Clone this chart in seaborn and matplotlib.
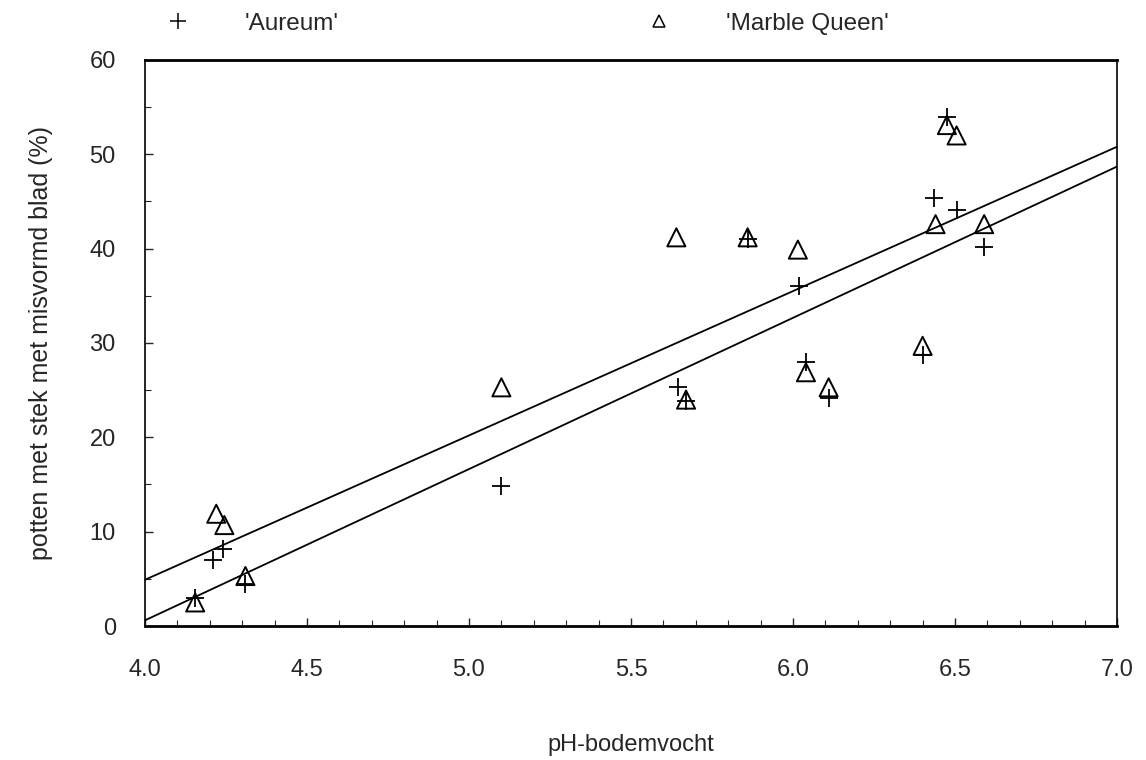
import seaborn as sns
import matplotlib.pyplot as plt
from matplotlib.lines import Line2D
from matplotlib.ticker import MultipleLocator

sns.set_style("ticks")
plt.rcParams['font.family'] = ['Liberation Sans', 'DejaVu Sans']

# 'Aureum' (+)
aureum_ph = [4.155, 4.21, 4.24, 4.31, 5.10, 5.645, 5.67, 5.86, 6.02, 6.04, 6.11, 6.40, 6.435, 6.475, 6.505, 6.59]
aureum_pct = [3.0, 7.0, 8.2, 4.5, 14.8, 25.3, 23.8, 41.0, 36.0, 28.0, 24.2, 28.7, 45.4, 54.0, 44.1, 40.2]

# 'Marble Queen' (open triangles)
mq_ph = [4.155, 4.22, 4.245, 4.31, 5.10, 5.64, 5.67, 5.86, 6.015, 6.04, 6.11, 6.40, 6.44, 6.475, 6.505, 6.59]
mq_pct = [2.5, 11.9, 10.7, 5.3, 25.3, 41.2, 24.0, 41.2, 39.9, 26.9, 25.3, 29.7, 42.6, 53.1, 52.0, 42.6]

# fitted regression lines
fit_ph = [4.0, 7.0]
mq_fit = [4.9, 50.8]
aureum_fit = [0.6, 48.7]

fig, ax = plt.subplots(figsize=(11.46, 7.6), dpi=100)
fig.subplots_adjust(left=0.1265, right=0.9747, bottom=0.1763, top=0.9211)

sns.lineplot(x=fit_ph, y=mq_fit, color='black', linewidth=1.3, ax=ax)
sns.lineplot(x=fit_ph, y=aureum_fit, color='black', linewidth=1.3, ax=ax)

sns.scatterplot(x=aureum_ph, y=aureum_pct, marker='+', s=170, color='black',
                linewidth=1.3, ax=ax, zorder=3)
sns.scatterplot(x=mq_ph, y=mq_pct, marker='^', s=170, facecolor='none',
                edgecolor='black', linewidth=1.4, ax=ax, zorder=3)

ax.set_xlim(4.0, 7.0)
ax.set_ylim(0, 60)
ax.xaxis.set_minor_locator(MultipleLocator(0.1))
ax.yaxis.set_major_locator(MultipleLocator(10))
ax.yaxis.set_minor_locator(MultipleLocator(5))
ax.set_xticks([4.0, 4.5, 5.0, 5.5, 6.0, 6.5, 7.0])
ax.set_xticklabels(['4.0', '4.5', '5.0', '5.5', '6.0', '6.5', '7.0'])
ax.tick_params(axis='both', which='major', direction='in', length=6, width=1,
               labelsize=17)
ax.tick_params(axis='x', which='major', pad=24)
ax.tick_params(axis='y', which='major', pad=21)
ax.tick_params(axis='both', which='minor', direction='in', length=4, width=0.8)

for sp in ax.spines.values():
    sp.set_visible(True)
    sp.set_color('black')
    sp.set_linewidth(1.2)
ax.spines['top'].set_linewidth(2.0)
ax.spines['bottom'].set_linewidth(2.0)

ax.set_xlabel("pH-bodemvocht", fontsize=17, labelpad=38)
ax.set_ylabel("potten met stek met misvormd blad (%)", fontsize=18, labelpad=26)

handles = [
    Line2D([], [], marker='+', linestyle='none', color='black', markersize=11, markeredgewidth=1.1),
    Line2D([], [], marker='^', linestyle='none', markerfacecolor='none', markeredgecolor='black',
           markersize=9, markeredgewidth=1.1),
]
ax.legend(handles, ["'Aureum'", "'Marble Queen'"], ncol=2, frameon=False, fontsize=17.5,
          loc='center left', bbox_to_anchor=(0.0113, 1.0636), borderaxespad=0,
          handlelength=1.0, handletextpad=2.26, columnspacing=12.65)

plt.savefig("out.png", dpi=100)
